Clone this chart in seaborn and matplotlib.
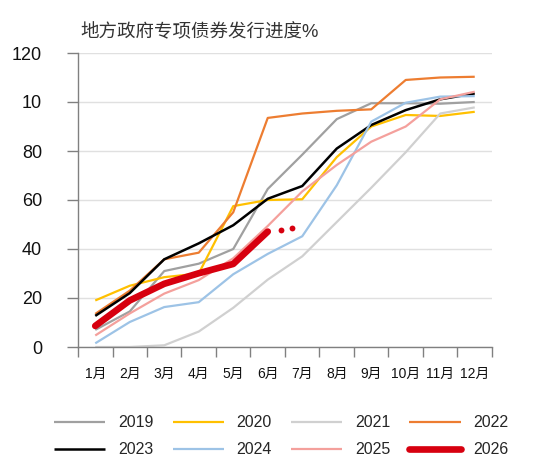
import numpy as np
import pandas as pd
import matplotlib
matplotlib.use("Agg")
import matplotlib.pyplot as plt
import seaborn as sns

# 月份与各年度发行进度(%)
months = ["1月", "2月", "3月", "4月", "5月", "6月", "7月", "8月", "9月", "10月", "11月", "12月"]
y2019 = [7, 14.5, 31, 34, 40, 64.5, 78.5, 93, 99.5, 99.5, 99.3, 100]
y2020 = [19, 25, 28.5, 30, 57.5, 60, 60.3, 77.5, 90, 94.7, 94.3, 96]
y2021 = [0, 0, 0.7, 6.3, 16, 27.5, 37, 51, 65, 79.5, 95.3, 97.8]
y2022 = [13.5, 23, 35.8, 38.5, 55, 93.5, 95.3, 96.4, 97, 109, 110, 110.3]
y2023 = [12.7, 22, 35.8, 42.3, 49.7, 60.5, 65.7, 81, 90.6, 96.7, 101.1, 103.5]
y2024 = [1.5, 10.2, 16.3, 18.3, 29.7, 38, 45.2, 66, 92, 99.7, 102.2, 102.4]
y2025 = [4.7, 13.7, 21.8, 27.3, 36.2, 49.4, 63.5, 74.3, 83.8, 90, 101.1, 104.2]
y2026 = [8.6, 19, 25.8, 30.1, 33.9, 47.1]
dots_2026_month = [6.37, 6.69]
dots_2026_value = [47.8, 48.7]

ytick_vals = [0, 20, 40, 60, 80, 100, 120]
ytick_text = ["0", "20", "40", "60", "80", "10", "120"]

series = [
    ("2019", y2019, "#A0A0A0", 1.6),
    ("2020", y2020, "#FFC000", 1.6),
    ("2021", y2021, "#D0D0D0", 1.6),
    ("2022", y2022, "#ED7D31", 1.6),
    ("2023", y2023, "#000000", 1.8),
    ("2024", y2024, "#9DC3E6", 1.6),
    ("2025", y2025, "#F4A09C", 1.6),
    ("2026", y2026, "#D7000F", 4.8),
]

sns.set_theme(style="white")
plt.rcParams["font.family"] = ["Liberation Sans", "Noto Sans CJK SC", "DejaVu Sans"]

fig = plt.figure(figsize=(5.35, 4.67), dpi=100)
ax = fig.add_axes([78 / 535, 1 - 347 / 467, 414 / 535, 294 / 467])

for name, vals, color, lw in series:
    xs = np.arange(len(vals)) + 0.5
    sns.lineplot(x=xs, y=vals, ax=ax, color=color, linewidth=lw, label=name,
                 solid_capstyle="round" if name == "2026" else "butt")

# 2026 dotted continuation
ax.plot(np.array(dots_2026_month) - 0.5, dots_2026_value, "o", color="#D7000F",
        markersize=4.2, markeredgewidth=0, label="_nolegend_")

ax.set_xlim(0, 12)
ax.set_ylim(0, 120)
ax.set_xticks(np.arange(0, 13))
ax.set_xticklabels([])
ax.set_xticks(np.arange(len(months)) + 0.5, minor=True)
ax.set_xticklabels(months, minor=True, fontsize=10, color="#111111")
ax.tick_params(axis="x", which="major", direction="out", length=7, width=1, color="#808080", bottom=True)
ax.tick_params(axis="x", which="minor", length=0, pad=14)
ax.set_yticks(ytick_vals)
ax.set_yticklabels(ytick_text, fontsize=13, color="#111111")
ax.tick_params(axis="y", direction="out", length=8, width=1, color="#808080", left=True, pad=18)

ax.grid(axis="y", color="#E0E0E0", linewidth=1)
ax.set_axisbelow(True)
for s in ["top", "right"]:
    ax.spines[s].set_visible(False)
for s in ["left", "bottom"]:
    ax.spines[s].set_color("#808080")
    ax.spines[s].set_linewidth(1)
ax.set_xlabel("")
ax.set_ylabel("")

# legend filled row by row (matplotlib fills columns first)
handles, labels = ax.get_legend_handles_labels()
ax.get_legend().remove()
order = [0, 4, 1, 5, 2, 6, 3, 7]
fig.legend([handles[i] for i in order], [labels[i] for i in order],
           loc="center", bbox_to_anchor=(0.526, 0.066), ncol=4,
           frameon=False, fontsize=11.5, handlelength=3.2, handletextpad=0.8,
           columnspacing=1.2, labelspacing=0.75, borderpad=0)

fig.text(80 / 535, 1 - 32 / 467, "地方政府专项债券发行进度%", fontsize=13.3,
         color="#333333", va="center", ha="left")

fig.savefig("out.png", dpi=100)
